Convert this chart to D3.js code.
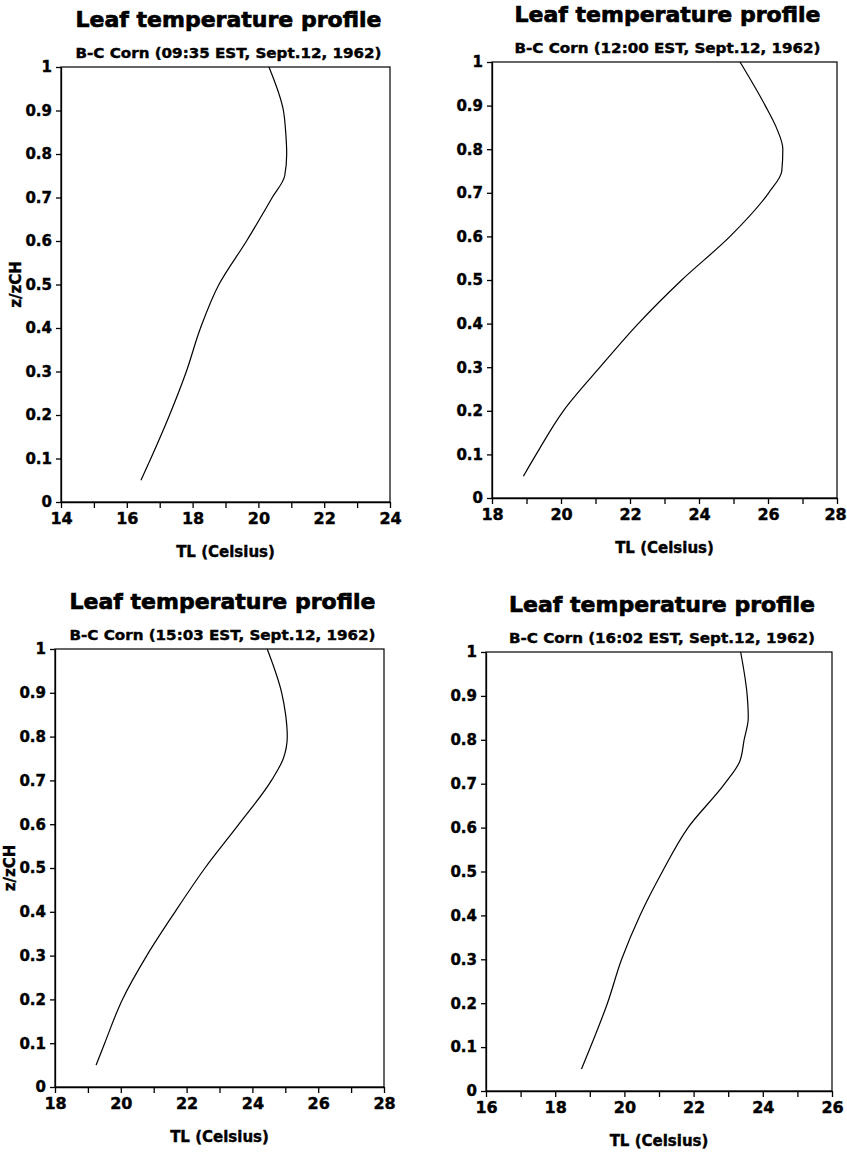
<!DOCTYPE html>
<html lang="en">
<head>
    <meta charset="UTF-8">
    <title>leaf-temperature-profiles</title>
    <style>
        body {
            margin: 0;
            background: #fff;
        }

        text {
            font-family: "DejaVu Sans", sans-serif;
            font-weight: bold;
            fill: #000;
        }
    </style>
    <script src="https://d3js.org/d3.v7.min.js"></script>
</head>
<body>

<script>

    // relative height z/zCH shared by all four profiles
    let zLevels = [0.05, 0.1, 0.2, 0.3, 0.4, 0.5, 0.6, 0.7, 0.75, 0.8, 0.85, 0.9, 1.0];

    // leaf temperature (Celsius) at each level
    let tl0935 = [16.43, 16.73, 17.30, 17.81, 18.24, 18.80, 19.64, 20.42, 20.80, 20.86, 20.83, 20.76, 20.32];
    let tl1200 = [18.91, 19.28, 20.07, 21.13, 22.24, 23.50, 24.90, 26.02, 26.40, 26.43, 26.24, 25.92, 25.19];
    let tl1503 = [19.25, 19.51, 20.05, 20.79, 21.65, 22.56, 23.59, 24.58, 24.94, 25.06, 25.01, 24.89, 24.45];
    let tl1602 = [18.76, 19.02, 19.51, 19.92, 20.45, 21.10, 21.84, 22.90, 23.33, 23.46, 23.58, 23.55, 23.36];

    let subtitles = [
        "B-C Corn (09:35 EST, Sept.12, 1962)",
        "B-C Corn (12:00 EST, Sept.12, 1962)",
        "B-C Corn (15:03 EST, Sept.12, 1962)",
        "B-C Corn (16:02 EST, Sept.12, 1962)"
    ];

    // x axis ticks (every degree, labelled every second one)
    let xTicks1 = [14, 15, 16, 17, 18, 19, 20, 21, 22, 23, 24];
    let xTicks2 = [18, 19, 20, 21, 22, 23, 24, 25, 26, 27, 28];
    let xTicks3 = [18, 19, 20, 21, 22, 23, 24, 25, 26, 27, 28];
    let xTicks4 = [16, 17, 18, 19, 20, 21, 22, 23, 24, 25, 26];

    let yTicks = [0, 0.1, 0.2, 0.3, 0.4, 0.5, 0.6, 0.7, 0.8, 0.9, 1];
    let yTickLabels = ["0", "0.1", "0.2", "0.3", "0.4", "0.5", "0.6", "0.7", "0.8", "0.9", "1"];

    let titleText = "Leaf temperature profile";
    let xTitle = "TL (Celsius)";
    let yTitle = "z/zCH";

    let series = [tl0935, tl1200, tl1503, tl1602];
    let xTickSets = [xTicks1, xTicks2, xTicks3, xTicks4];

    // plot box of each panel on the page
    let boxes = [
        {left: 61, right: 390, top: 67, bottom: 502, yLabel: true},
        {left: 492, right: 837, top: 62, bottom: 498, yLabel: false},
        {left: 55, right: 384, top: 649, bottom: 1087, yLabel: true},
        {left: 486, right: 832, top: 652, bottom: 1091, yLabel: false}
    ];

    let width = 847;
    let height = 1156;

    let svg = d3.select("body").append("svg")
        .attr("width", width)
        .attr("height", height);

    svg.append("rect")
        .attr("width", "100%")
        .attr("height", "100%")
        .attr("fill", "#fff");

    boxes.forEach(function (b, i) {
        let ticks = xTickSets[i];
        let x = d3.scaleLinear()
            .domain([ticks[0], ticks[ticks.length - 1]])
            .range([0, b.right - b.left]);
        let y = d3.scaleLinear()
            .domain([0, 1])
            .range([b.bottom - b.top, 0]);

        let w = b.right - b.left;
        let h = b.bottom - b.top;
        let g = svg.append("g").attr("transform", "translate(" + b.left + "," + b.top + ")");

        // frame
        g.append("rect")
            .attr("width", w)
            .attr("height", h)
            .attr("fill", "none")
            .attr("stroke", "#000")
            .attr("stroke-width", 1.2);

        let xAxis = d3.axisBottom(x)
            .tickValues(ticks)
            .tickSize(6)
            .tickPadding(5)
            .tickSizeOuter(0)
            .tickFormat(function (d) { return d % 2 === 0 ? d : ""; });

        let yAxis = d3.axisLeft(y)
            .tickValues(yTicks)
            .tickSize(5)
            .tickPadding(4)
            .tickSizeOuter(0)
            .tickFormat(function (d, k) { return yTickLabels[k]; });

        let gx = g.append("g")
            .attr("transform", "translate(0," + h + ")")
            .call(xAxis);
        let gy = g.append("g").call(yAxis);

        [gx, gy].forEach(function (a) {
            a.selectAll("path, line").attr("stroke", "#000").attr("stroke-width", 1.3);
            a.selectAll("text")
                .attr("fill", "#000")
                .attr("stroke", "#000")
                .attr("stroke-width", 0.4)
                .style("font-family", "'DejaVu Sans', sans-serif")
                .style("font-weight", "bold");
        });
        gx.selectAll("text").style("font-size", "16px");
        gy.selectAll("text").style("font-size", "15px");

        // keep the last x label inside the page
        gx.selectAll("text")
            .attr("dx", function (d) {
                let edge = b.left + x(d) + 11;
                return edge > width - 1 ? (width - 1 - edge) : 0;
            });

        // profile line
        let line = d3.line()
            .x(function (d) { return x(d); })
            .y(function (d, k) { return y(zLevels[k]); })
            .curve(d3.curveMonotoneY);

        g.append("path")
            .datum(series[i])
            .attr("d", line)
            .attr("fill", "none")
            .attr("stroke", "#000")
            .attr("stroke-width", 1.2);

        // titles
        g.append("text")
            .attr("x", w / 2 + 3)
            .attr("y", -40)
            .attr("text-anchor", "middle")
            .attr("stroke", "#000")
            .attr("stroke-width", 0.7)
            .style("font-size", "22px")
            .text(titleText);

        g.append("text")
            .attr("x", w / 2 + 3)
            .attr("y", -9)
            .attr("text-anchor", "middle")
            .attr("textLength", 306)
            .attr("lengthAdjust", "spacingAndGlyphs")
            .attr("stroke", "#000")
            .attr("stroke-width", 0.4)
            .style("font-size", "14px")
            .text(subtitles[i]);

        g.append("text")
            .attr("x", w / 2)
            .attr("y", h + 55)
            .attr("text-anchor", "middle")
            .attr("stroke", "#000")
            .attr("stroke-width", 0.4)
            .style("font-size", "15px")
            .text(xTitle);

        if (b.yLabel) {
            g.append("text")
                .attr("transform", "translate(" + (-40) + "," + (h / 2) + ") rotate(-90)")
                .attr("text-anchor", "middle")
                .attr("stroke", "#000")
                .attr("stroke-width", 0.4)
                .style("font-size", "15px")
                .text(yTitle);
        }
    });

</script>

</body>
</html>
